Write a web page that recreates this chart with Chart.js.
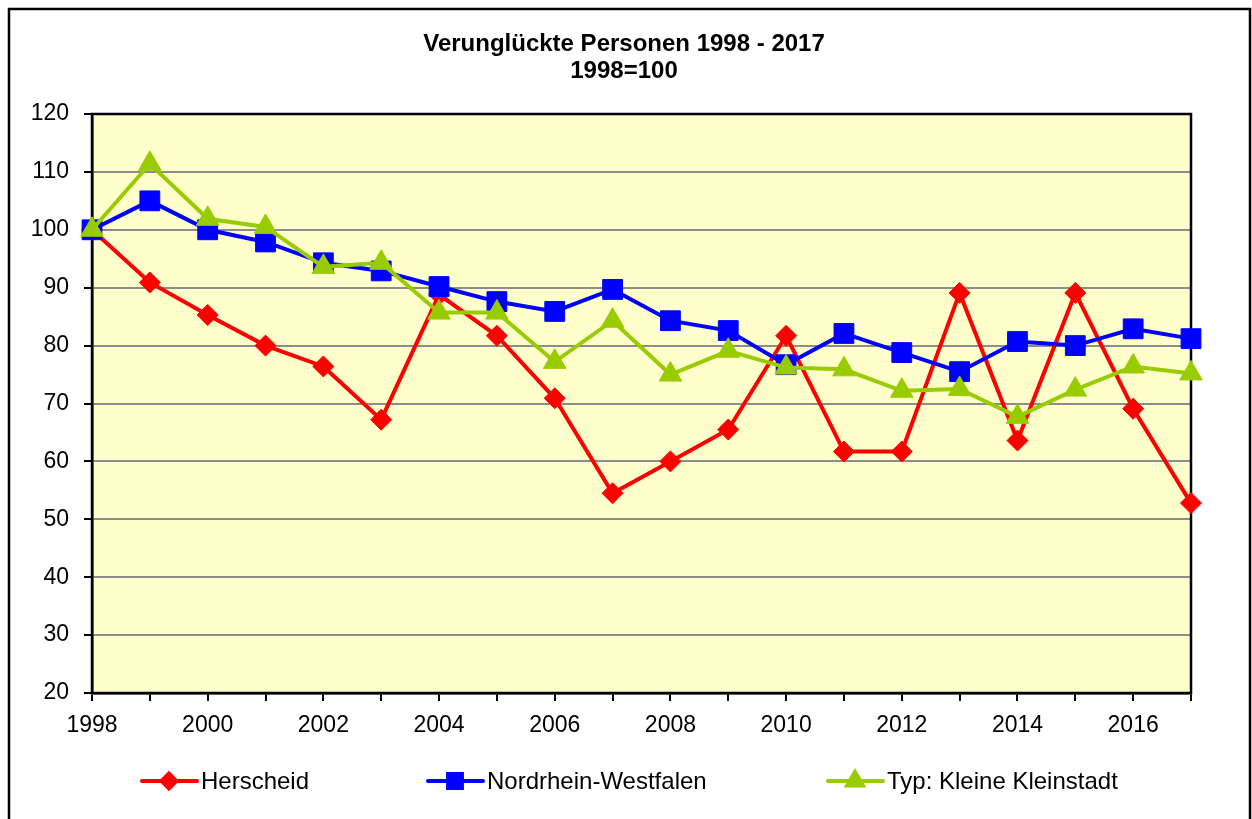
<!DOCTYPE html>
<html>
<head>
<meta charset="utf-8">
<script src="https://cdn.jsdelivr.net/npm/chart.js@4"></script>
<style>
  body { margin: 0; background: #fff; }
  #wrap { width: 1252px; height: 819px; }
</style>
</head>
<body>
<div id="wrap"><canvas id="chart" width="1252" height="819"></canvas></div>
<script>
// data (1998 = 100)
const years = ['1998','1999','2000','2001','2002','2003','2004','2005','2006','2007',
               '2008','2009','2010','2011','2012','2013','2014','2015','2016','2017'];
const herscheid = [100, 90.9, 85.3, 80.0, 76.4, 67.2, 88.8, 81.7, 70.9, 54.5,
                   60.0, 65.5, 81.7, 61.7, 61.7, 89.1, 63.6, 89.1, 69.1, 52.8];
const nrw = [100, 105.0, 100, 97.9, 94.3, 92.9, 90.2, 87.6, 85.9, 89.7,
             84.3, 82.6, 76.7, 82.1, 78.8, 75.5, 80.7, 80.0, 82.9, 81.2];
const kleinstadt = [100, 111.4, 101.9, 100.5, 93.6, 94.3, 85.7, 85.7, 77.2, 84.3,
                    75.0, 79.1, 76.2, 75.9, 72.2, 72.5, 67.7, 72.4, 76.4, 75.2];
const seriesNames = ['Herscheid', 'Nordrhein-Westfalen', 'Typ: Kleine Kleinstadt'];
const titleLines = ['Verunglückte Personen 1998 - 2017', '1998=100'];

const FONT = "'Liberation Sans', Arial, sans-serif";

// frame, plot background, title and legend
const decor = {
  id: 'decor',
  beforeDraw(chart) {
    const ctx = chart.ctx, a = chart.chartArea;
    ctx.save();
    ctx.fillStyle = '#fff';
    ctx.fillRect(0, 0, chart.width, chart.height);
    ctx.strokeStyle = '#000';
    ctx.lineWidth = 2.5;
    ctx.strokeRect(9, 9, 1241, 830);
    ctx.fillStyle = '#FFFFCC';
    ctx.fillRect(a.left, a.top, a.right - a.left, a.bottom - a.top);
    // title
    ctx.fillStyle = '#000';
    ctx.font = 'bold 24px ' + FONT;
    ctx.textAlign = 'center';
    ctx.textBaseline = 'middle';
    ctx.fillText(titleLines[0], 624, 44);
    ctx.fillText(titleLines[1], 624, 71);
    ctx.restore();
  },
  beforeDatasetsDraw(chart) {
    const ctx = chart.ctx, a = chart.chartArea;
    ctx.save();
    ctx.strokeStyle = '#000';
    ctx.lineWidth = 2.5;
    ctx.strokeRect(a.left, a.top, a.right - a.left, a.bottom - a.top);
    ctx.restore();
  },
  afterDraw(chart) {
    const ctx = chart.ctx;
    const starts = [142, 428, 828];
    const y = 781;
    ctx.save();
    chart.data.datasets.forEach((ds, i) => {
      const x0 = starts[i];
      ctx.strokeStyle = ds.borderColor;
      ctx.lineWidth = 4;
      ctx.lineCap = 'round';
      ctx.beginPath();
      ctx.moveTo(x0, y);
      ctx.lineTo(x0 + 55, y);
      ctx.stroke();
      Chart.helpers.drawPoint(ctx, {
        pointStyle: ds.pointStyle, radius: ds.pointRadius * 0.7,
        borderWidth: 1, rotation: 0
      }, x0 + 27, y);
      ctx.fillStyle = ds.pointBackgroundColor;
      ctx.fill();
      ctx.fillStyle = '#000';
      ctx.font = '24px ' + FONT;
      ctx.textAlign = 'left';
      ctx.textBaseline = 'middle';
      ctx.fillText(ds.label, x0 + 59, y + 1);
    });
    ctx.restore();
  }
};

function makeSet(label, data, color, style, radius, order) {
  return {
    label: label,
    data: data,
    borderColor: color,
    backgroundColor: color,
    pointBackgroundColor: color,
    pointBorderColor: color,
    borderWidth: 4,
    pointStyle: style,
    pointRadius: radius,
    pointBorderWidth: 1,
    tension: 0,
    order: order
  };
}

new Chart(document.getElementById('chart'), {
  type: 'line',
  data: {
    labels: years,
    datasets: [
      makeSet(seriesNames[0], herscheid, '#FF0000', 'rectRot', 10.5, 2),
      makeSet(seriesNames[1], nrw, '#0000FF', 'rect', 14, 1),
      makeSet(seriesNames[2], kleinstadt, '#99CC00', 'triangle', 13, 0)
    ]
  },
  options: {
    responsive: false,
    animation: false,
    events: [],
    layout: { padding: { top: 114, right: 61, left: 0, bottom: 0 } },
    plugins: {
      legend: { display: false },
      title: { display: false },
      tooltip: { enabled: false }
    },
    scales: {
      x: {
        offset: false,
        afterFit: (s) => { s.height = 126; },
        grid: { drawOnChartArea: false, drawTicks: true, tickLength: 8, color: '#000', lineWidth: 2 },
        border: { display: true, color: '#000', width: 2.5 },
        ticks: {
          autoSkip: false, maxRotation: 0, padding: 11, color: '#000',
          font: { family: FONT, size: 23 },
          callback: function (v, i) { return i % 2 === 0 ? this.getLabelForValue(v) : ''; }
        }
      },
      y: {
        min: 20, max: 120,
        afterFit: (s) => { s.width = 92; },
        grid: { color: '#8C8C8C', lineWidth: 2, tickColor: '#000', tickLength: 8 },
        border: { display: true, color: '#000', width: 2.5 },
        ticks: {
          stepSize: 10, padding: 15, color: '#000',
          font: { family: FONT, size: 23 }
        }
      }
    }
  },
  plugins: [decor]
});
</script>
</body>
</html>
